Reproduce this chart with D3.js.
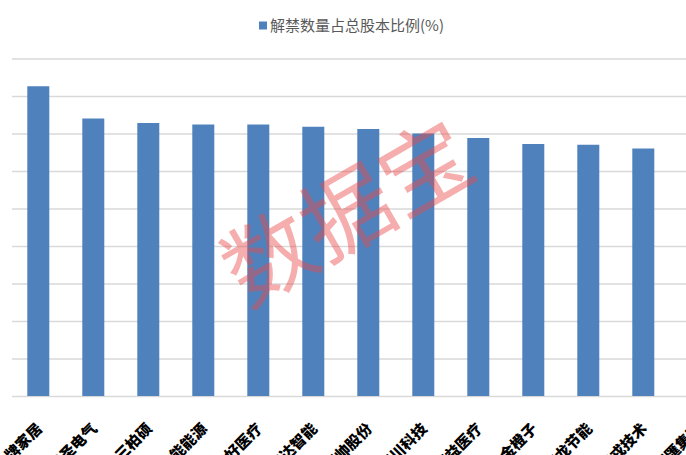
<!DOCTYPE html>
<html><head><meta charset="utf-8">
<script src="https://cdn.jsdelivr.net/npm/d3@7"></script>
<style>
html,body{margin:0;padding:0;background:#fff;overflow:hidden;}
svg{display:block;}
</style></head>
<body>
<script>
const categories = ["金牌家居","华圣电气","三柏硕","晶能能源","美好医疗","宏达智能","同帅股份","可川科技","康益医疗","金橙子","宏龙节能","鸿戎技术","恒匯集团"];
const values = [41.3, 37.0, 36.4, 36.2, 36.2, 35.9, 35.6, 35.0, 34.4, 33.6, 33.5, 33.0, 32.5];
const yTicks = [0,5,10,15,20,25,30,35,40,45];
const seriesName = "解禁数量占总股本比例(%)";
const watermark = "数据宝";

const W = 686, H = 455;
const svg = d3.select("body").append("svg").attr("width", W).attr("height", H);

const x = d3.scaleBand().domain(categories).range([10.8, 10.8 + 55 * categories.length])
  .paddingInner(0.6).paddingOuter(0.3);
const y = d3.scaleLinear().domain([0, 45]).range([396, 58.5]);

// gridlines
const grid = svg.append("g").attr("transform", "translate(12,0)")
  .call(d3.axisLeft(y).tickValues(yTicks).tickSize(-(W - 12)).tickFormat(""));
grid.select(".domain").remove();
grid.selectAll(".tick line").attr("stroke", "#d9d9d9").attr("stroke-width", 1.5);

// bars
svg.append("g").selectAll("rect").data(values).join("rect")
  .attr("x", (d, i) => x(categories[i]))
  .attr("width", x.bandwidth())
  .attr("y", d => y(d))
  .attr("height", d => y(0) - y(d))
  .attr("fill", "#4f81bd");

// x axis labels
const xa = svg.append("g").attr("transform", "translate(0,396)")
  .call(d3.axisBottom(x).tickSize(0).tickPadding(0));
xa.select(".domain").remove();
xa.selectAll(".tick text")
  .attr("font-family", "'Noto Sans CJK SC', sans-serif")
  .attr("font-size", 15).attr("font-weight", "900").attr("fill", "#000")
  .attr("text-anchor", "end")
  .attr("transform", "translate(1,30) rotate(-45)")
  .attr("dy", "0.35em").attr("y", 0).attr("x", 0);

// legend
const lg = svg.append("g");
lg.append("rect").attr("x", 259).attr("y", 21.5).attr("width", 8).attr("height", 8).attr("fill", "#4f81bd");
lg.append("text").attr("x", 270).attr("y", 31)
  .attr("font-family", "'Noto Sans CJK SC', sans-serif").attr("font-size", 15)
  .attr("fill", "#595959").text(seriesName);

// watermark
svg.append("text").attr("transform", "translate(348,214) rotate(-30)")
  .attr("text-anchor", "middle").attr("dy", "0.35em")
  .attr("font-family", "'Noto Sans CJK SC', sans-serif").attr("font-size", 90)
  .attr("font-weight", 400)
  .attr("fill", "#e84a4a").attr("fill-opacity", 0.45).text(watermark);
</script>
</body></html>
